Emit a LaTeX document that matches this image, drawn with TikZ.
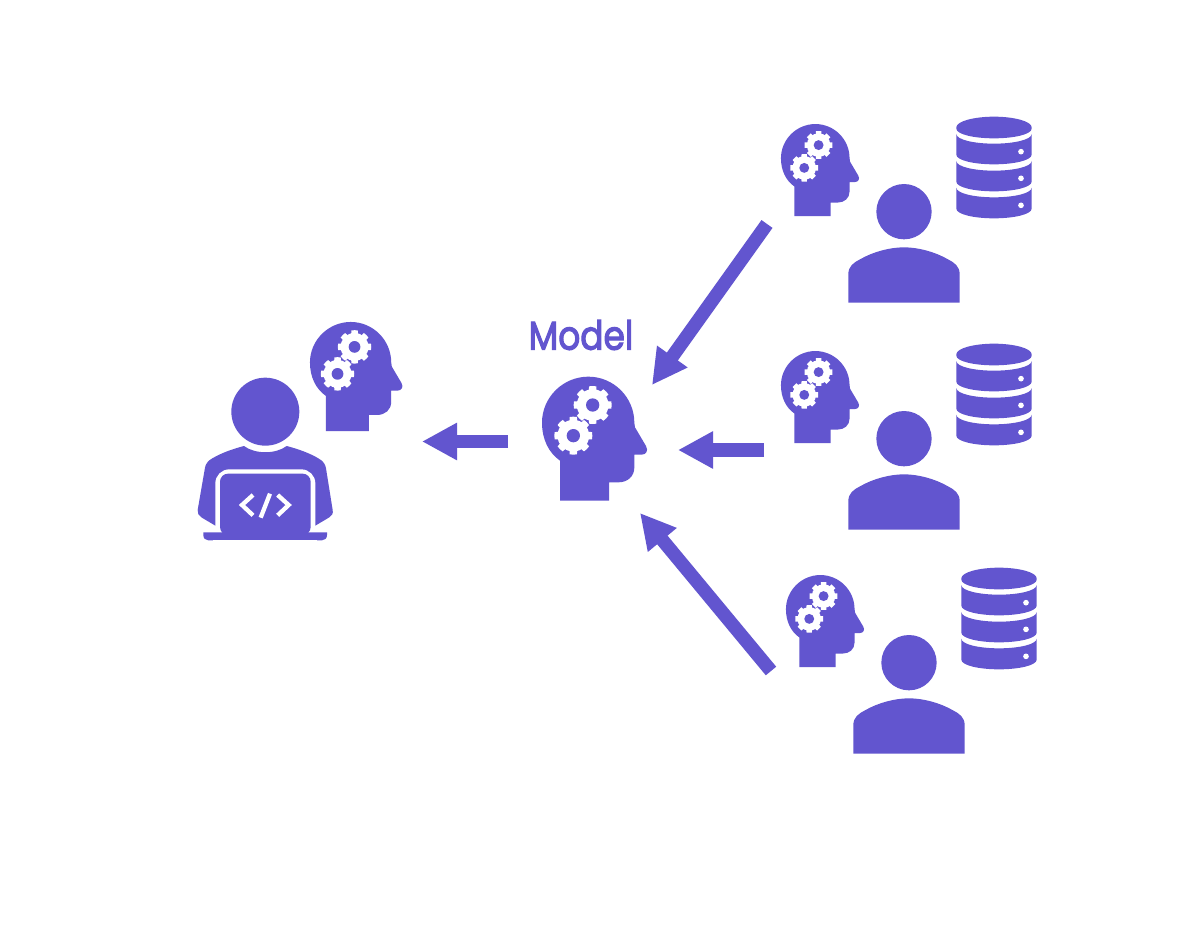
\documentclass[tikz,border=0pt]{standalone}
\usepackage{fontspec}
\setmainfont{Poppins}
\newfontfamily\modelfont[FakeBold=3]{Poppins}
\usetikzlibrary{arrows.meta}
\definecolor{iris}{RGB}{98,85,207}
\newcommand{\cogat}[2]{%
  \begin{scope}[shift={(#1,#2)}]
    \fill[white] (0,0) circle (47.5);
    \foreach \a in {0,45,...,315}{
      \fill[white] (\a-15:44) -- (\a-11:57) arc[start angle=\a-11,end angle=\a+11,radius=57] -- (\a+15:44) -- cycle;
    }
    \fill[iris] (0,0) circle (20);
  \end{scope}}
\newcommand{\dbband}[2]{% top-edge y at the sides, bottom-edge y at the sides
  \fill[iris] (559,#1) .. controls (559,#1+17) and (612,#1+29) .. (672,#1+29)
    .. controls (732,#1+29) and (785,#1+17) .. (785,#1)
    -- (785,#2) .. controls (785,#2+17) and (732,#2+29) .. (672,#2+29)
    .. controls (612,#2+29) and (559,#2+17) .. (559,#2) -- cycle;}
\tikzset{
  x=1pt,y=-1pt,
  blockarrow/.style={draw=iris,line width=13.5pt,-{Triangle[length=35pt,width=35pt]}},
  label/.style={text=iris,font=\modelfont\fontsize{40}{40}\selectfont,inner sep=0pt,xscale=.86,transform shape},
  brain/.pic={
    \fill[iris] (120,572) -- (120,452) .. controls (86,428) and (66,388) .. (66,338)
      .. controls (66,262) and (129,200) .. (205,200)
      .. controls (281,200) and (343,262) .. (343,338)
      -- (345,352) -- (378,408) .. controls (386,422) and (378,434) .. (365,434)
      -- (343,434) -- (343,472) .. controls (343,500) and (322,517) .. (295,517)
      -- (267,517) -- (267,572) -- cycle;
    \cogat{218}{285}
    \cogat{160}{377}
  },
  person/.pic={
    \fill[iris] (402,305) circle (83);
    \fill[iris] (235,578) -- (235,492) .. controls (235,470) and (250,458) .. (270,448)
      .. controls (310,425) and (360,412) .. (402,412)
      .. controls (444,412) and (494,425) .. (534,448)
      .. controls (554,458) and (569,470) .. (569,492) -- (569,578) -- cycle;
  },
  datastore/.pic={
    \fill[iris] (559,52) .. controls (559,34) and (612,20) .. (672,20)
      .. controls (732,20) and (785,34) .. (785,52)
      -- (785,56) .. controls (785,73) and (732,85) .. (672,85)
      .. controls (612,85) and (559,73) .. (559,56) -- cycle;
    \dbband{72}{134}
    \dbband{153}{215}
    \dbband{233}{296}
    \foreach \yy in {125,205,286}{\fill[white] (753,\yy) circle (8.5);}
  },
  developer/.pic={
    \fill[iris] (226,290) circle (102);
    \fill[iris] (162,393) .. controls (195,418) and (257,418) .. (290,393)
      .. controls (325,402) and (360,415) .. (385,430) .. controls (400,438) and (406,448) .. (408,460)
      -- (428,585) .. controls (430,595) and (426,602) .. (418,607)
      -- (376,632) -- (76,632) -- (34,607)
      .. controls (26,602) and (22,595) .. (23,585)
      -- (45,458) .. controls (47,448) and (52,438) .. (67,430)
      .. controls (92,415) and (127,402) .. (162,393) -- cycle;
    \fill[white,rounded corners=14] (76,463) rectangle (376,680);
    \fill[iris,rounded corners=8] (90,476) -- (362,476) -- (362,660) -- (90,660) -- cycle;
    \fill[iris] (40,652) -- (411,652) -- (411,660) .. controls (411,670) and (405,676) .. (396,676)
      -- (55,676) .. controls (46,676) and (40,670) .. (40,660) -- cycle;
    \fill[white] (70,676) rectangle (380,684);
    \draw[white,line width=4.3pt,line join=miter] (189,540) -- (156,570) -- (189,601);
    \draw[white,line width=4.3pt,line join=miter] (263,540) -- (296,570) -- (263,601);
    \draw[white,line width=4.3pt] (240,536) -- (212,608);
  }
}
\begin{document}
\begin{tikzpicture}
\useasboundingbox (0,0) rectangle (1200,934);
\fill[white] (0,0) rectangle (1200,934);
% centre
\pic[scale=1/3] at (520,310) {brain};
\node[label,anchor=center] (modeltext) at (581,335) {Model};
% developer
\pic[scale=1/3] at (190,315) {developer};
\pic[scale=.2933] at (290.6,263.3) {brain};
% clients
\foreach \dx/\dy in {0/0,0/227,5/451}{
  \begin{scope}[shift={(\dx,\dy)}]
    \pic[scale=.2477] at (764.6,74.5) {brain};
    \pic[scale=1/3] at (770,110) {person};
    \pic[scale=1/3] at (770,110) {datastore};
  \end{scope}
}
% arrows
\coordinate (startA) at (767,224);
\coordinate (tipA) at (652,385);
\coordinate (startB) at (764,450);
\coordinate (tipB) at (678,450);
\coordinate (startC) at (771,671);
\coordinate (tipC) at (640,513);
\coordinate (startD) at (508,441.5);
\coordinate (tipD) at (422,441.5);
\draw[blockarrow] (startA) -- (tipA);
\draw[blockarrow] (startB) -- (tipB);
\draw[blockarrow] (startC) -- (tipC);
\draw[blockarrow] (startD) -- (tipD);
\end{tikzpicture}
\end{document}
